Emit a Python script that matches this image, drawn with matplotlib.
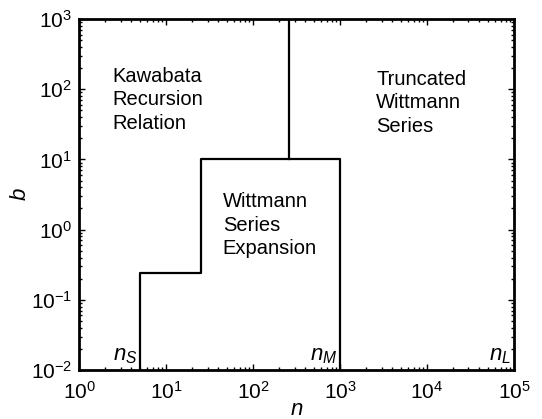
import matplotlib
matplotlib.use("Agg")
import matplotlib.pyplot as plt

plt.rcParams['font.family'] = ['Liberation Sans', 'DejaVu Sans']
plt.rcParams['mathtext.fontset'] = 'custom'
plt.rcParams['mathtext.rm'] = 'Liberation Sans'
plt.rcParams['mathtext.it'] = 'Liberation Sans:italic'

# region boundaries in (n, b)
step_n = [5, 5, 25, 25, 1000, 1000]
step_b = [1e-2, 0.24, 0.24, 10, 10, 1e-2]
upper_n = [260, 260]
upper_b = [10, 1e3]

region_labels = ["Kawabata\nRecursion\nRelation",
                 "Wittmann\nSeries\nExpansion",
                 "Truncated\nWittmann\nSeries"]
region_n = [2.4, 45, 2600]
region_b = [210, 3.4, 190]

n_marks = ["$n_S$", "$n_M$", "$n_L$"]
n_values = [5, 1000, 1e5]

fig = plt.figure(figsize=(5.42, 4.19), dpi=100)
ax = fig.add_axes([0.1458, 0.1169, 0.8025, 0.8378])

ax.plot(step_n, step_b, color='black', lw=1.6)
ax.plot(upper_n, upper_b, color='black', lw=1.6)

ax.set_xscale('log')
ax.set_yscale('log')
ax.set_xlim(1, 1e5)
ax.set_ylim(1e-2, 1e3)

for txt, x, y in zip(region_labels, region_n, region_b):
    ax.text(x, y, txt, fontsize=14.5, va='top', ha='left', linespacing=1.3)

for txt, x in zip(n_marks, n_values):
    ax.text(x * 0.93, 0.0115, txt, fontsize=16, ha='right', va='bottom')

ax.set_xlabel("$n$", fontsize=16, labelpad=-3)
ax.set_ylabel("$b$", fontsize=16, labelpad=0)

ax.tick_params(which='both', direction='in', top=True, right=True,
               labelsize=15, width=1)
ax.tick_params(which='major', length=4)
ax.tick_params(axis='x', which='major', pad=8)
ax.tick_params(axis='y', which='major', pad=5)
ax.tick_params(which='minor', length=2)
for s in ax.spines.values():
    s.set_linewidth(2)

fig.savefig("out.png", dpi=100)
